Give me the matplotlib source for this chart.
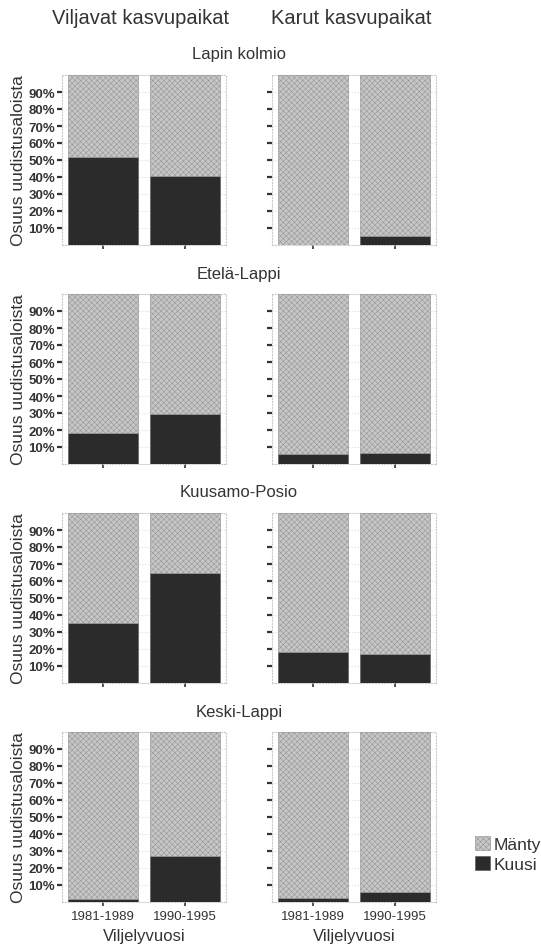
import matplotlib.pyplot as plt
from matplotlib.patches import Patch

plt.rcParams["font.family"] = ["Liberation Sans", "DejaVu Sans"]
plt.rcParams["hatch.linewidth"] = 0.3
plt.rcParams["hatch.color"] = "#b8b8b8"

regions = ["Lapin kolmio", "Etelä-Lappi", "Kuusamo-Posio", "Keski-Lappi"]
site_types = ["Viljavat kasvupaikat", "Karut kasvupaikat"]
periods = ["1981-1989", "1990-1995"]

# share of spruce (Kuusi) per region, [viljavat, karut] x [1981-1989, 1990-1995]
kuusi = {
    "Lapin kolmio": [[0.52, 0.405], [0.0, 0.055]],
    "Etelä-Lappi": [[0.18, 0.295], [0.06, 0.065]],
    "Kuusamo-Posio": [[0.355, 0.65], [0.18, 0.17]],
    "Keski-Lappi": [[0.02, 0.27], [0.025, 0.06]],
}

W, H = 541, 945
KUUSI_COLOR = "#2b2b2b"
MANTY_COLOR = "#c6c6c6"
yticks = [0.1, 0.2, 0.3, 0.4, 0.5, 0.6, 0.7, 0.8, 0.9]

fig = plt.figure(figsize=(W / 100, H / 100), dpi=100)


def px_axes(x0, y_top, w, h):
    return fig.add_axes([x0 / W, (H - y_top - h) / H, w / W, h / H])


col_x = [62, 272]
row_top = [76, 295, 514, 733]
panel_w, panel_h = 164, 170

for c, title in enumerate(site_types):
    fig.text((col_x[c] + panel_w / 2 - 3) / W, 1 - 18 / H, title,
             ha="center", va="center", fontsize=14.5, color="#333333")

for r, region in enumerate(regions):
    fig.text(239 / W, 1 - (row_top[r] - 21) / H, region,
             ha="center", va="center", fontsize=12, color="#333333")
    for c in range(2):
        ax = px_axes(col_x[c], row_top[r], panel_w, panel_h)
        k = kuusi[region][c]
        m = [1 - v for v in k]
        x = list(range(len(periods)))
        ax.bar(x, k, width=0.85, color=KUUSI_COLOR, edgecolor="#555555",
               linewidth=0.4, zorder=3)
        ax.bar(x, m, bottom=k, width=0.85, color=MANTY_COLOR, hatch="xxxxxx",
               edgecolor="#8a8a8a", linewidth=0.4, zorder=3)
        ax.set_xlim(-0.5, 1.5)
        ax.set_ylim(0, 1)
        ax.set_yticks(yticks)
        ax.grid(axis="y", color="#dddddd", linestyle=":", linewidth=0.8, zorder=0)
        for s in ax.spines.values():
            s.set_color("#cccccc")
            s.set_linestyle(":")
            s.set_linewidth(0.8)
        ax.tick_params(axis="y", length=3.5, width=1.6, color="#333333", pad=1.5,
                       labelsize=9.5, labelcolor="#333333")
        ax.tick_params(axis="x", length=3, width=1.2, color="#333333", pad=3,
                       labelsize=9.5, labelcolor="#333333")
        ax.set_xticks(x)
        if c == 0:
            ax.set_yticklabels([f"{int(round(t * 100))}%" for t in yticks],
                               fontweight="bold")
            ax.set_ylabel("Osuus uudistusaloista", fontsize=12.5, color="#333333",
                          labelpad=2)
        else:
            ax.set_yticklabels([])
        if r == len(regions) - 1:
            ax.set_xticklabels(periods)
            ax.set_xlabel("Viljelyvuosi", fontsize=12, color="#333333", labelpad=4)
        else:
            ax.set_xticklabels([])

handles = [
    Patch(facecolor=MANTY_COLOR, hatch="xxxxxx", edgecolor="#8a8a8a", linewidth=0.4,
          label="Mänty"),
    Patch(facecolor=KUUSI_COLOR, edgecolor="#555555", linewidth=0.4, label="Kuusi"),
]
fig.legend(handles=handles, loc="center left", bbox_to_anchor=(475 / W, 1 - 855 / H),
           frameon=False, borderpad=0, borderaxespad=0, fontsize=12.5,
           handlelength=0.85, handleheight=0.85, handletextpad=0.2,
           labelspacing=0.2, labelcolor="#333333")

fig.savefig("out.png", dpi=100)
